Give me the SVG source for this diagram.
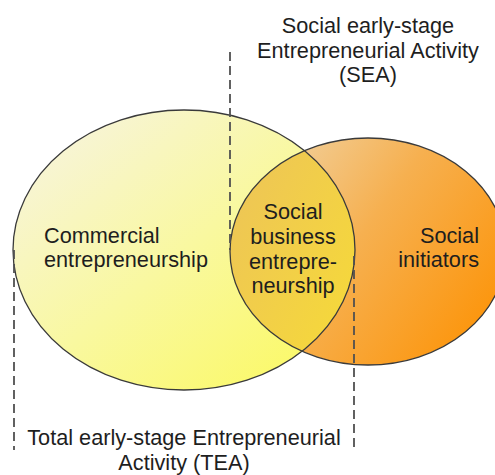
<svg xmlns="http://www.w3.org/2000/svg" width="495" height="475" viewBox="0 0 495 475">
  <defs>
    <linearGradient id="gradYellow" x1="0" y1="0.15" x2="0.85" y2="1">
      <stop offset="0" stop-color="#f7f4dc"/>
      <stop offset="0.5" stop-color="#f9f8a0"/>
      <stop offset="1" stop-color="#fbf964"/>
    </linearGradient>
    <linearGradient id="gradOrange" x1="0" y1="0.2" x2="1" y2="0.8">
      <stop offset="0" stop-color="#f0d4a6"/>
      <stop offset="0.45" stop-color="#f6b050"/>
      <stop offset="1" stop-color="#fd9306"/>
    </linearGradient>
    <linearGradient id="gradOverlap" x1="0" y1="0.3" x2="1" y2="0.7">
      <stop offset="0" stop-color="#eec655"/>
      <stop offset="0.6" stop-color="#f6da38"/>
      <stop offset="1" stop-color="#fae428"/>
    </linearGradient>
    <clipPath id="clipYellow">
      <ellipse cx="184" cy="250" rx="171" ry="140"/>
    </clipPath>
  </defs>
  <style>
    .label { font-family: "Liberation Sans", Arial, sans-serif; font-size: 21.7px; fill: #1e1e1e; }
    .mid { text-anchor: middle; }
    .outline { fill: none; stroke: #3a3a3a; stroke-width: 1.3; }
    .guide { fill: none; stroke: #505050; stroke-width: 1.8; stroke-dasharray: 9 5; }
  </style>

  <!-- circle fills -->
  <g id="social-initiators">
    <ellipse cx="368" cy="251.5" rx="138" ry="113.5" fill="url(#gradOrange)"/>
  </g>
  <g id="commercial">
    <ellipse cx="184" cy="250" rx="171" ry="140" fill="url(#gradYellow)"/>
  </g>
  <g id="social-business">
    <ellipse cx="368" cy="251.5" rx="138" ry="113.5" fill="url(#gradOverlap)" clip-path="url(#clipYellow)"/>
  </g>

  <!-- circle outlines -->
  <g id="outlines">
    <ellipse class="outline" cx="368" cy="251.5" rx="138" ry="113.5"/>
    <ellipse class="outline" cx="184" cy="250" rx="171" ry="140"/>
  </g>

  <!-- dashed boundary lines -->
  <g id="connectors">
    <line class="guide" x1="230" y1="52" x2="230" y2="250"/>
    <line class="guide" x1="14" y1="250" x2="14" y2="450"/>
    <line class="guide" x1="354" y1="256" x2="354" y2="450"/>
  </g>

  <!-- labels -->
  <g id="label-sea">
    <text class="label mid" x="368" y="33">Social early-stage</text>
    <text class="label mid" x="368" y="58">Entrepreneurial Activity</text>
    <text class="label mid" x="368" y="82">(SEA)</text>
  </g>
  <g id="label-commercial">
    <text class="label" x="44" y="243">Commercial</text>
    <text class="label" x="44" y="267">entrepreneurship</text>
  </g>
  <g id="label-social-business">
    <text class="label mid" x="293" y="219">Social</text>
    <text class="label mid" x="293" y="244">business</text>
    <text class="label mid" x="293" y="269">entrepre-</text>
    <text class="label mid" x="293" y="293">neurship</text>
  </g>
  <g id="label-initiators">
    <text class="label" x="479" y="243" text-anchor="end">Social</text>
    <text class="label" x="479" y="267" text-anchor="end">initiators</text>
  </g>
  <g id="label-tea">
    <text class="label mid" x="184" y="445">Total early-stage Entrepreneurial</text>
    <text class="label mid" x="184" y="470">Activity (TEA)</text>
  </g>
</svg>
